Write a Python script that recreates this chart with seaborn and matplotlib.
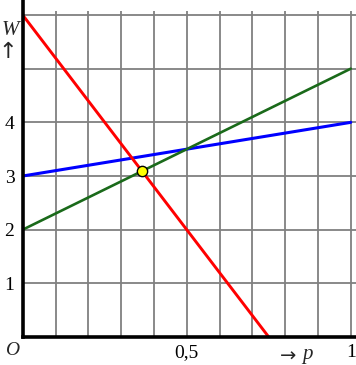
import matplotlib
matplotlib.use("Agg")
import matplotlib.pyplot as plt
import seaborn as sns
import pandas as pd

# data
p_red = [0.0, 0.75]
w_red = [6.0, 0.0]
p_green = [0.0, 1.0]
w_green = [2.0, 5.0]
p_blue = [0.0, 1.0]
w_blue = [3.0, 4.0]
p_point = [0.364]
w_point = [3.09]

x_ticks = [0.1, 0.2, 0.3, 0.4, 0.5, 0.6, 0.7, 0.8, 0.9, 1.0]
x_tick_labels = ["", "", "", "", "0,5", "", "", "", "", "1"]
y_ticks = [1, 2, 3, 4, 5, 6]
y_tick_labels = ["1", "2", "3", "4", "", ""]

sns.set_style("white")
plt.rcParams["font.family"] = ["Liberation Serif", "DejaVu Serif"]

fig = plt.figure(figsize=(3.56, 3.65), dpi=100)
ax = fig.add_axes([22.7 / 356, 28 / 365, 1 - 22.7 / 356, 337 / 365])
ax.set_xlim(0, 1.016)
ax.set_ylim(0, 6.28)

# grid
grid_col = "#808080"
ax.vlines(x_ticks, 0, 6.07, color=grid_col, lw=1.3, zorder=1)
ax.hlines(y_ticks, 0, 1.016, color=grid_col, lw=1.3, zorder=1)

df_r = pd.DataFrame({"p": p_red, "W": w_red})
df_g = pd.DataFrame({"p": p_green, "W": w_green})
df_b = pd.DataFrame({"p": p_blue, "W": w_blue})
sns.lineplot(data=df_b, x="p", y="W", ax=ax, color="#0000ff", lw=2.2, zorder=3)
sns.lineplot(data=df_g, x="p", y="W", ax=ax, color="#1a6a1a", lw=1.9, zorder=3)
sns.lineplot(data=df_r, x="p", y="W", ax=ax, color="#ff0000", lw=2.1, zorder=4)
sns.scatterplot(x=p_point, y=w_point, ax=ax, s=55, color="#ffff00",
                edgecolor="black", linewidth=1.0, zorder=5)

for s in ["top", "right"]:
    ax.spines[s].set_visible(False)
for s in ["left", "bottom"]:
    ax.spines[s].set_linewidth(2.6)
    ax.spines[s].set_color("black")
    ax.spines[s].set_zorder(6)

ax.set_xticks(x_ticks)
ax.set_xticklabels(x_tick_labels)
ax.set_yticks(y_ticks)
ax.set_yticklabels(y_tick_labels)
ax.tick_params(axis="both", direction="inout", length=8, width=1.3,
               color="black", labelsize=14, labelcolor="black")
ax.tick_params(axis="x", pad=1)
ax.tick_params(axis="y", pad=2)
ax.set_xlabel("")
ax.set_ylabel("")

ax.text(-0.033, -0.25, "O", fontsize=14, style="italic", ha="center", va="center",
        clip_on=False)
ax.text(0.810, -0.35, "\u2192", fontsize=14, ha="center", va="center", clip_on=False,
        family=["DejaVu Sans"])
ax.text(0.867, -0.33, "p", fontsize=15, style="italic", ha="center", va="center",
        clip_on=False)
ax.text(-0.038, 5.71, "W", fontsize=15, style="italic", ha="center", va="center",
        clip_on=False)
ax.text(-0.045, 5.31, "\u2191", fontsize=16, ha="center", va="center", clip_on=False,
        family=["DejaVu Sans"])

fig.savefig("out.png", dpi=100)
